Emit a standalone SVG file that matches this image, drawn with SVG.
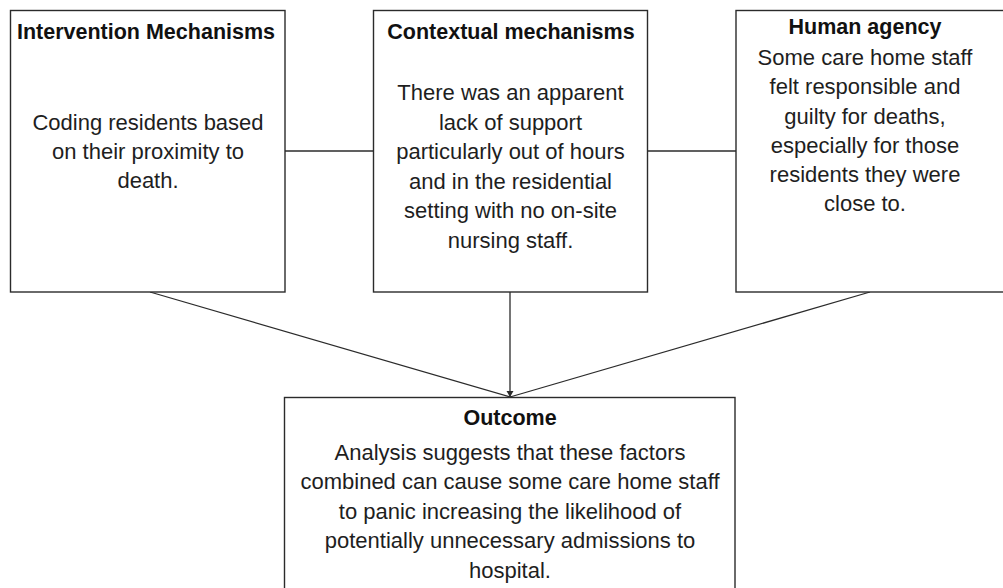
<svg xmlns="http://www.w3.org/2000/svg" width="1003" height="588" viewBox="0 0 1003 588">
  <style>
    .box { fill: #ffffff; stroke: #2b2b2b; stroke-width: 1.4; }
    .link { fill: none; stroke: #2b2b2b; stroke-width: 1.3; }
    .title { font-family: "Liberation Sans", Arial, sans-serif; font-weight: bold; font-size: 21.5px; fill: #111111; text-anchor: middle; }
    .body { font-family: "Liberation Sans", Arial, sans-serif; font-size: 22px; fill: #1e1e1e; text-anchor: middle; }
  </style>
  <defs>
    <marker id="arrow" markerWidth="8" markerHeight="8" refX="6" refY="3.5" orient="auto" markerUnits="userSpaceOnUse">
      <path d="M0,0 L6,3.5 L0,7 Z" fill="#2b2b2b"/>
    </marker>
  </defs>
  <rect width="1003" height="588" fill="#ffffff"/>

  <g id="connectors">
    <line class="link" x1="285" y1="151" x2="373.5" y2="151"/>
    <line class="link" x1="647.5" y1="151" x2="736" y2="151"/>
    <line class="link" x1="150" y1="292" x2="510" y2="397"/>
    <line class="link" x1="870" y1="292" x2="510" y2="397"/>
    <line class="link" x1="510" y1="292" x2="510" y2="397" marker-end="url(#arrow)"/>
  </g>

  <g id="intervention">
    <rect class="box" x="10.5" y="10.5" width="274.5" height="281.5"/>
    <text class="title" x="146" y="39">Intervention Mechanisms</text>
    <text class="body" x="148" y="130">Coding residents based</text>
    <text class="body" x="148" y="159">on their proximity to</text>
    <text class="body" x="148" y="188">death.</text>
  </g>

  <g id="contextual">
    <rect class="box" x="373.5" y="10.5" width="274" height="281.5"/>
    <text class="title" x="511" y="38.5">Contextual mechanisms</text>
    <text class="body" x="510.5" y="100">There was an apparent</text>
    <text class="body" x="510.5" y="129.6">lack of support</text>
    <text class="body" x="510.5" y="159.2">particularly out of hours</text>
    <text class="body" x="510.5" y="188.8">and in the residential</text>
    <text class="body" x="510.5" y="218.4">setting with no on-site</text>
    <text class="body" x="510.5" y="248">nursing staff.</text>
  </g>

  <g id="agency">
    <rect class="box" x="736" y="10.5" width="280" height="281.5"/>
    <text class="title" x="865" y="33.5">Human agency</text>
    <text class="body" x="865" y="65">Some care home staff</text>
    <text class="body" x="865" y="94.3">felt responsible and</text>
    <text class="body" x="865" y="123.5">guilty for deaths,</text>
    <text class="body" x="865" y="152.7">especially for those</text>
    <text class="body" x="865" y="181.9">residents they were</text>
    <text class="body" x="865" y="211">close to.</text>
  </g>

  <g id="outcome">
    <rect class="box" x="284.5" y="397.5" width="450.5" height="210"/>
    <text class="title" x="510" y="425">Outcome</text>
    <text class="body" x="510" y="460">Analysis suggests that these factors</text>
    <text class="body" x="510" y="489.3">combined can cause some care home staff</text>
    <text class="body" x="510" y="518.6">to panic increasing the likelihood of</text>
    <text class="body" x="510" y="548">potentially unnecessary admissions to</text>
    <text class="body" x="510" y="577.5">hospital.</text>
  </g>
</svg>
